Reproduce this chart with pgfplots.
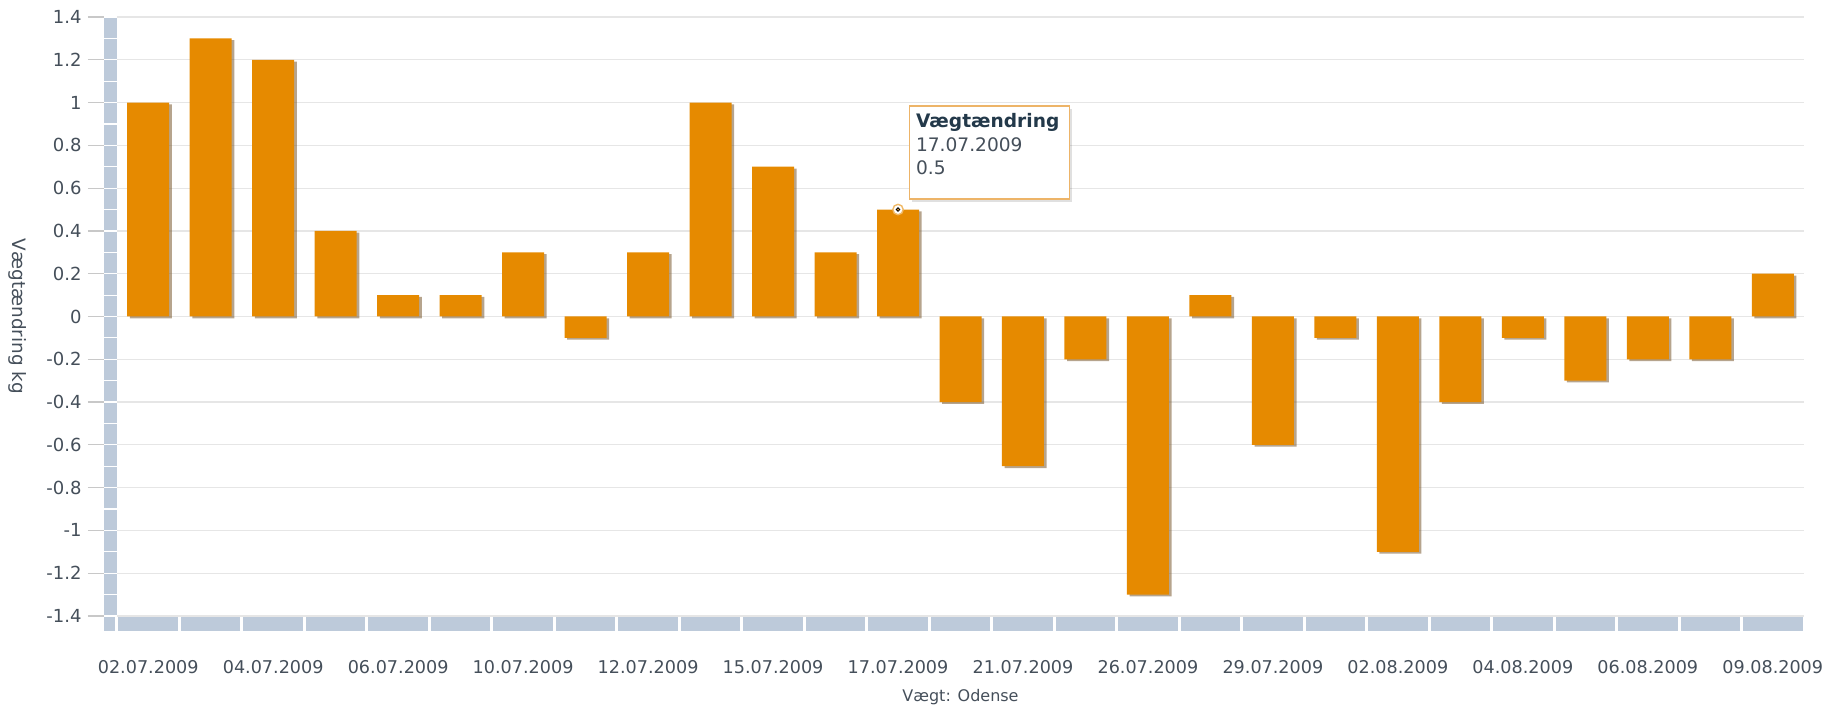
\documentclass[border=0pt]{standalone}
\usepackage{pgfplots}
\pgfplotsset{compat=1.18}
\usepackage{pgfplotstable}
\usepackage{fontspec}
\setmainfont{DejaVu Sans}
\definecolor{barcol}{HTML}{E68A00}
\definecolor{shadowcol}{HTML}{7A5A30}
\definecolor{bandcol}{HTML}{BDCADA}
\definecolor{gridcol}{HTML}{E6E6E6}
\definecolor{tickcol}{HTML}{C8C8C8}
\definecolor{txtcol}{HTML}{454F5A}
\definecolor{tipborder}{HTML}{EDB468}
\definecolor{tiptitle}{HTML}{23394A}

\pgfplotstableread{
x y
0 1.0
1 1.3
2 1.2
3 0.4
4 0.1
5 0.1
6 0.3
7 -0.1
8 0.3
9 1.0
10 0.7
11 0.3
12 0.5
13 -0.4
14 -0.7
15 -0.2
16 -1.3
17 0.1
18 -0.6
19 -0.1
20 -1.1
21 -0.4
22 -0.1
23 -0.3
24 -0.2
25 -0.2
26 0.2
}\datatable

\begin{document}
\begin{tikzpicture}
\path[use as bounding box] (-58.5pt,-45pt) rectangle (865.5pt,308pt);
\begin{axis}[
  width=843.5pt, height=299.5pt, scale only axis,
  at={(0,0)}, anchor=south west,
  xmin=-0.5, xmax=26.5, ymin=-1.4, ymax=1.4,
  clip=false,
  axis line style={draw=none},
  xtick={0,2,4,6,8,10,12,14,16,18,20,22,24,26},
  xticklabels={02.07.2009,04.07.2009,06.07.2009,10.07.2009,12.07.2009,15.07.2009,17.07.2009,21.07.2009,26.07.2009,29.07.2009,02.08.2009,04.08.2009,06.08.2009,09.08.2009},
  ytick={-1.4,-1.2,-1,-0.8,-0.6,-0.4,-0.2,0,0.2,0.4,0.6,0.8,1,1.2,1.4},
  yticklabels={-1.4,-1.2,-1,-0.8,-0.6,-0.4,-0.2,0,0.2,0.4,0.6,0.8,1,1.2,1.4},
  major tick length=0pt,
  ymajorgrids, grid style={gridcol, line width=0.6pt},
  tick label style={text=txtcol},
  yticklabel style={font=\fontsize{9}{10}\selectfont, anchor=east, inner sep=0pt, xshift=-17.5pt},
  xticklabel style={font=\fontsize{8.8}{10}\selectfont, anchor=north, inner sep=0pt, yshift=-22pt},
  xlabel={Vægt: Odense},
  every axis x label/.style={at={(rel axis cs:0.5,0)}, anchor=center, yshift=-40.5pt, font=\fontsize{8}{9}\selectfont, text=txtcol},
  ylabel={Vægtændring kg},
  every axis y label/.style={at={(rel axis cs:0,0.5)}, anchor=center, xshift=-49.5pt, rotate=-90, font=\fontsize{9.2}{10}\selectfont, text=txtcol},
]
% left band
\pgfplotsinvokeforeach{0,...,27}{
  \fill[bandcol] ([xshift=-6.5pt,yshift=0.3pt]axis cs:-0.5,-1.4+0.1*#1) rectangle ([yshift=-0.3pt]axis cs:-0.5,-1.3+0.1*#1);
}
% corner
\fill[bandcol] ([xshift=-6.5pt,yshift=-0.6pt]axis cs:-0.5,-1.4) rectangle ([xshift=-0.75pt,yshift=-7.5pt]axis cs:-0.5,-1.4);
% bottom band
\pgfplotsinvokeforeach{0,...,26}{
  \fill[bandcol] ([xshift=0.75pt,yshift=-0.6pt]axis cs:#1-0.5,-1.4) rectangle ([xshift=-0.75pt,yshift=-7.5pt]axis cs:#1+0.5,-1.4);
}
% tick marks
\pgfplotsinvokeforeach{0,...,14}{
  \draw[tickcol, line width=0.6pt] ([xshift=-14.5pt]axis cs:-0.5,-1.4+0.2*#1) -- ([xshift=-6.5pt]axis cs:-0.5,-1.4+0.2*#1);
}
% bars with shadow
\addplot[ybar, bar width=21pt, bar shift=1.3pt, yshift=-0.9pt, fill=shadowcol, fill opacity=0.55, draw=none] table[x=x,y=y] {\datatable};
\addplot[ybar, bar width=21pt, bar shift=0pt, fill=barcol, draw=none] table[x=x,y=y] {\datatable};
% hover marker
\addplot[only marks, mark=*, mark size=2.6pt, mark options={fill=white, draw=barcol!60, line width=0.7pt}] coordinates {(12,0.5)};
\addplot[only marks, mark=*, mark size=0.9pt, mark options={fill=barcol!80, draw=none}] coordinates {(12,0.5)};
% tooltip
\fill[black, opacity=0.12] ([xshift=1.5pt,yshift=-1.5pt]axis cs:12.18,0.984) rectangle ([xshift=81.5pt,yshift=-48pt]axis cs:12.18,0.984);
\draw[tipborder, fill=white, line width=0.7pt] (axis cs:12.18,0.984) rectangle ([xshift=80pt,yshift=-46.5pt]axis cs:12.18,0.984);
\node[anchor=base west, inner sep=0pt, font=\fontsize{9.3}{11}\selectfont\bfseries, text=tiptitle] at ([xshift=3.2pt,yshift=-11pt]axis cs:12.18,0.984) {Vægtændring};
\node[anchor=base west, inner sep=0pt, font=\fontsize{9.3}{11}\selectfont, text=txtcol] at ([xshift=3.2pt,yshift=-22.8pt]axis cs:12.18,0.984) {17.07.2009};
\node[anchor=base west, inner sep=0pt, font=\fontsize{9.3}{11}\selectfont, text=txtcol] at ([xshift=3.2pt,yshift=-34.5pt]axis cs:12.18,0.984) {0.5};
\end{axis}
\end{tikzpicture}
\end{document}
